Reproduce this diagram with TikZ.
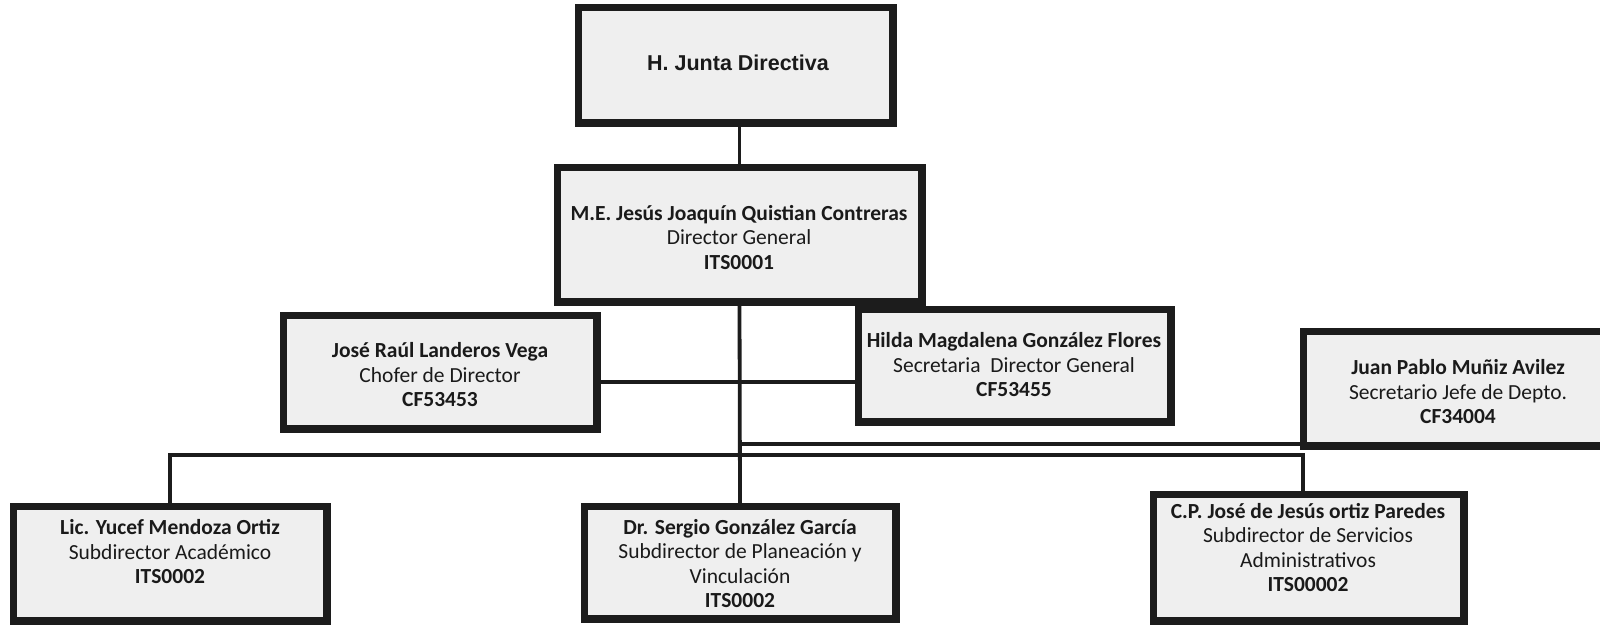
\documentclass[tikz,border=0pt]{standalone}
\usepackage{fontspec}
\setmainfont{Carlito}
\newfontfamily\headfont{Liberation Sans}
\definecolor{boxline}{HTML}{1C1C1C}
\definecolor{boxfill}{HTML}{EFEFEF}
\definecolor{txt}{HTML}{1A1A1A}
\begin{document}
\begin{tikzpicture}[x=1pt,y=-1pt,
  box/.style={draw=boxline, line width=5pt, fill=boxfill, rectangle, inner sep=0pt},
  lbl/.style={align=center, text=txt, inner sep=0pt, font=\fontsize{21.5}{24.5}\selectfont},
  link/.style={draw=boxline, line width=3.8pt}]
\fill[white] (0,0) rectangle (1600,624);
\useasboundingbox (0,0) rectangle (1600,624);
\clip (0,0) rectangle (1600,624);

% boxes (outer edges in pixels, path inset by half the border)
\node[box, minimum width=312, minimum height=113] (junta)  at (735.5,65)    {};
\node[box, minimum width=362, minimum height=132] (dir)    at (739.5,234.5) {};
\node[box, minimum width=311, minimum height=111] (chofer) at (440,372)     {};
\node[box, minimum width=310, minimum height=110] (hilda)  at (1014.5,365.5){};
\node[box, minimum width=309, minimum height=112] (juan)   at (1459,388.5)  {};
\node[box, minimum width=311, minimum height=112] (lic)    at (170,563.5)   {};
\node[box, minimum width=309, minimum height=110] (sergio) at (740,562.5)   {};
\node[box, minimum width=308, minimum height=124] (cp)     at (1308.5,557.5){};

% connectors
\coordinate (pair) at (740,382);
\coordinate (busA) at (740,444);
\coordinate (busB) at (1303,455);
\draw[link] (dir.north) -- (dir.north |- junta.south);
\draw[link] (dir.south) -- (sergio.north);
\draw[link] (chofer.east |- pair) -- (hilda.west |- pair);
\draw[link] (busA) -- (busA -| juan.west);
\draw[link] (lic.north) |- (busB) -- (busB |- cp.north);

% borders redrawn over the connector ends
\foreach \b in {junta,dir,chofer,hilda,juan,lic,sergio,cp}{
  \draw[boxline, line width=5pt] (\b.north west) rectangle (\b.south east);
}

% texts
\node[lbl, font=\headfont\bfseries\fontsize{21.5}{24}\selectfont] (junta-t) at (738,63) {H. Junta Directiva};
\node[lbl] (dir-t) at (739,237.5) {\textbf{M.E. Jesús Joaquín Quistian Contreras}\\Director General\\\textbf{ITS0001}};
\node[lbl] (chofer-t) at (440,375) {\textbf{José Raúl Landeros Vega}\\Chofer de Director\\\textbf{CF53453}};
\node[lbl] (hilda-t) at (1014,365) {\textbf{Hilda Magdalena González Flores}\\Secretaria\ \ Director General\\\textbf{CF53455}};
\node[lbl] (juan-t) at (1458,392) {\textbf{Juan Pablo Muñiz Avilez}\\Secretario Jefe de Depto.\\\textbf{CF34004}};
\node[lbl] (lic-t) at (170,552) {\textbf{Lic. Yucef Mendoza Ortiz}\\Subdirector Académico\\\textbf{ITS0002}};
\node[lbl] (sergio-t) at (740,563.5) {\textbf{Dr. Sergio González García}\\Subdirector de Planeación y\\Vinculación\\\textbf{ITS0002}};
\node[lbl] (cp-t) at (1308,547.5) {\textbf{C.P. José de Jesús ortiz Paredes}\\Subdirector de Servicios\\Administrativos\\\textbf{ITS00002}};
\end{tikzpicture}
\end{document}
